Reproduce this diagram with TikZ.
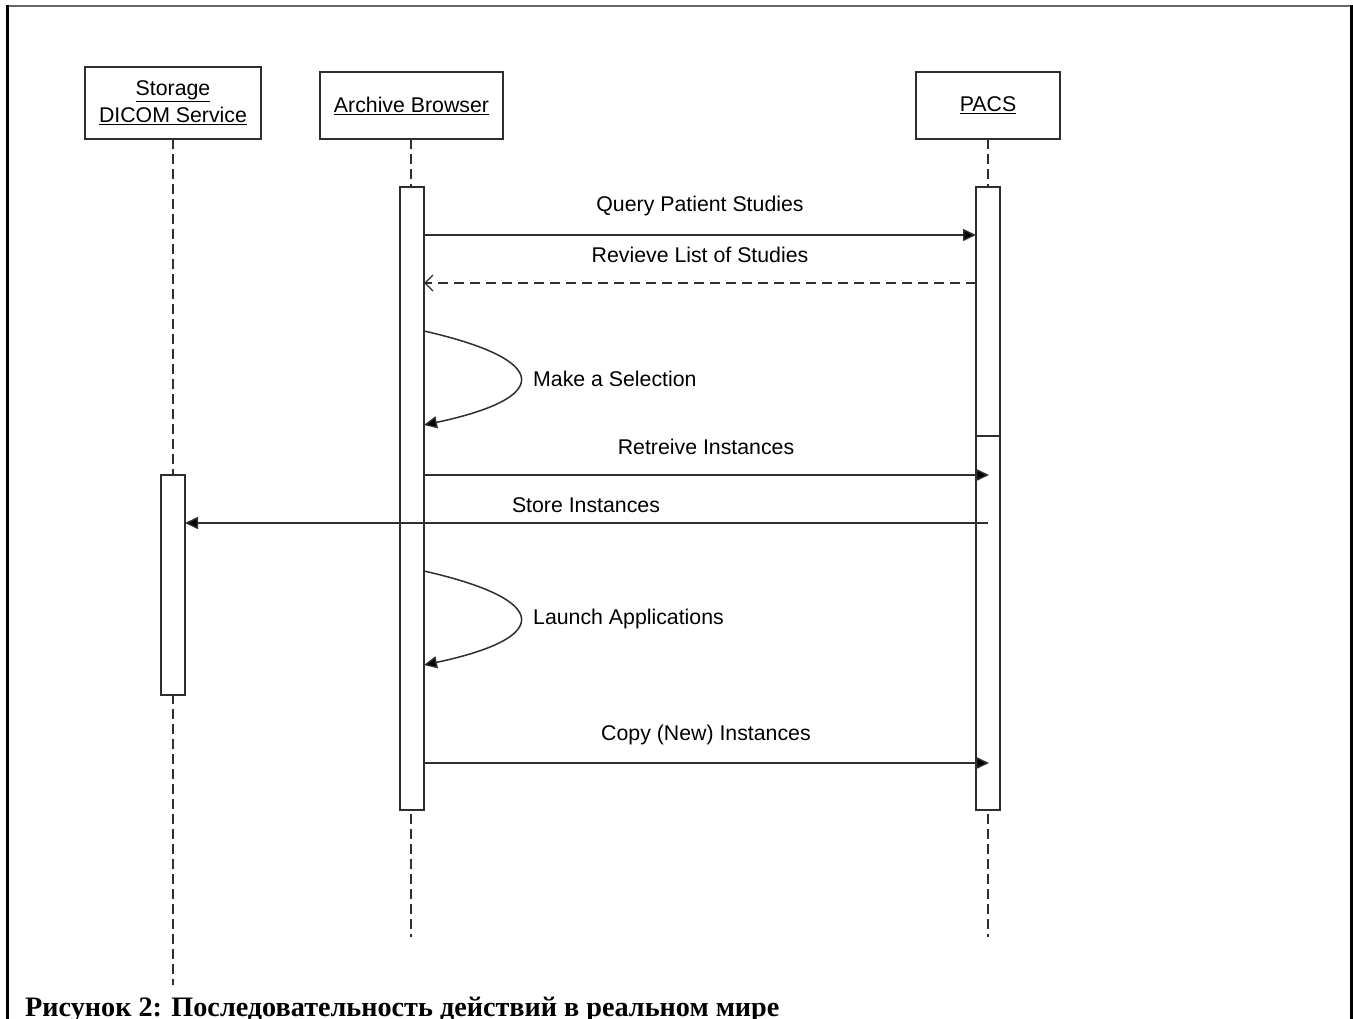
\documentclass[tikz,border=0pt]{standalone}
\usepackage{fontspec}
\setmainfont{Liberation Sans}
\newfontfamily\capfont{Liberation Serif}
\usetikzlibrary{arrows.meta}
\definecolor{ln}{HTML}{2E2E2E}
\begin{document}
\begin{tikzpicture}[x=1pt,y=-1pt,
  every node/.style={font=\fontsize{21.3}{25}\selectfont, text=black},
  actor/.style={draw=ln, line width=1.6pt, fill=white, inner sep=0pt, align=center},
  bar/.style={draw=ln, line width=1.6pt, fill=white},
  life/.style={draw=ln, line width=1.5pt, dash pattern=on 10pt off 5pt},
  msg/.style={draw=ln, line width=1.5pt, -{Triangle[length=13pt,width=12pt,fill=black]}},
  ret/.style={draw=ln, line width=1.5pt, dash pattern=on 10pt off 6pt, -{Straight Barb[length=8pt,width=16pt,line width=1.4pt]}},
  lbl/.style={inner sep=0pt}]
\useasboundingbox (0,0) rectangle (1353,1019);
\fill[white] (0,0) rectangle (1353,1019);
% frame
\draw[gray!80!black, line width=2pt] (6,6) -- (1352,6);
\draw[black, line width=3pt] (7,5) -- (7,1025);
\draw[black, line width=3pt] (1351,5) -- (1351,1025);

% lifelines
\coordinate (sl1) at (173,139); \coordinate (sl2) at (173,985);
\coordinate (al1) at (411,139); \coordinate (al2) at (411,937);
\coordinate (pl1) at (988,139); \coordinate (pl2) at (988,937);
\draw[life] (sl1) -- (sl2);
\draw[life] (al1) -- (al2);
\draw[life] (pl1) -- (pl2);

% actors
\node[actor, minimum width=176pt, minimum height=72pt] (stor) at (173,103) {\underline{Storage}\\[2pt]\underline{DICOM Service}};
\node[actor, minimum width=183pt, minimum height=67pt] (arch) at (411.5,105.5) {\underline{Archive Browser}};
\node[actor, minimum width=144pt, minimum height=67pt] (pacs) at (988,105.5) {\underline{PACS}};

% activation bars
\draw[bar] (400,187) rectangle (424,810);
\draw[bar] (976,187) rectangle (1000,436);
\draw[bar] (976,436) rectangle (1000,810);
\draw[bar] (161,475) rectangle (185,695);

% message end points
\coordinate (q1) at (424,235); \coordinate (q2) at (976,235);
\coordinate (r1) at (976,283); \coordinate (r2) at (424,283);
\coordinate (m1) at (424,331); \coordinate (m2) at (424,425);
\coordinate (t1) at (424,475); \coordinate (t2) at (989,475);
\coordinate (s1) at (988,523); \coordinate (s2) at (185,523);
\coordinate (l1) at (424,571); \coordinate (l2) at (424,665);
\coordinate (c1) at (424,763); \coordinate (c2) at (989,763);

\draw[msg] (q1) -- (q2);
\draw[ret] (r1) -- (r2);
\draw[msg] (m1) .. controls (552,360) and (552,398) .. (m2);
\draw[msg] (t1) -- (t2);
\draw[msg] (s1) -- (s2);
\draw[msg] (l1) .. controls (552,600) and (552,638) .. (l2);
\draw[msg] (c1) -- (c2);

% labels
\node[lbl] (lq) at (700,206) {Query Patient Studies};
\node[lbl] (lr) at (700,255) {Revieve List of Studies};
\node[lbl, anchor=west] (lm) at (533,379) {Make a Selection};
\node[lbl] (lt) at (706,447) {Retreive Instances};
\node[lbl] (ls) at (586,505) {Store Instances};
\node[lbl, anchor=west] (ll) at (533,619) {Launch Applications};
\node[lbl] (lc) at (706,735) {Copy (New) Instances};

% caption
\node[anchor=base west, inner sep=0pt, font=\capfont\bfseries\fontsize{28.2}{32}\selectfont] (cap) at (25,1016) {Рисунок 2: Последовательность действий в реальном мире};
\end{tikzpicture}
\end{document}
